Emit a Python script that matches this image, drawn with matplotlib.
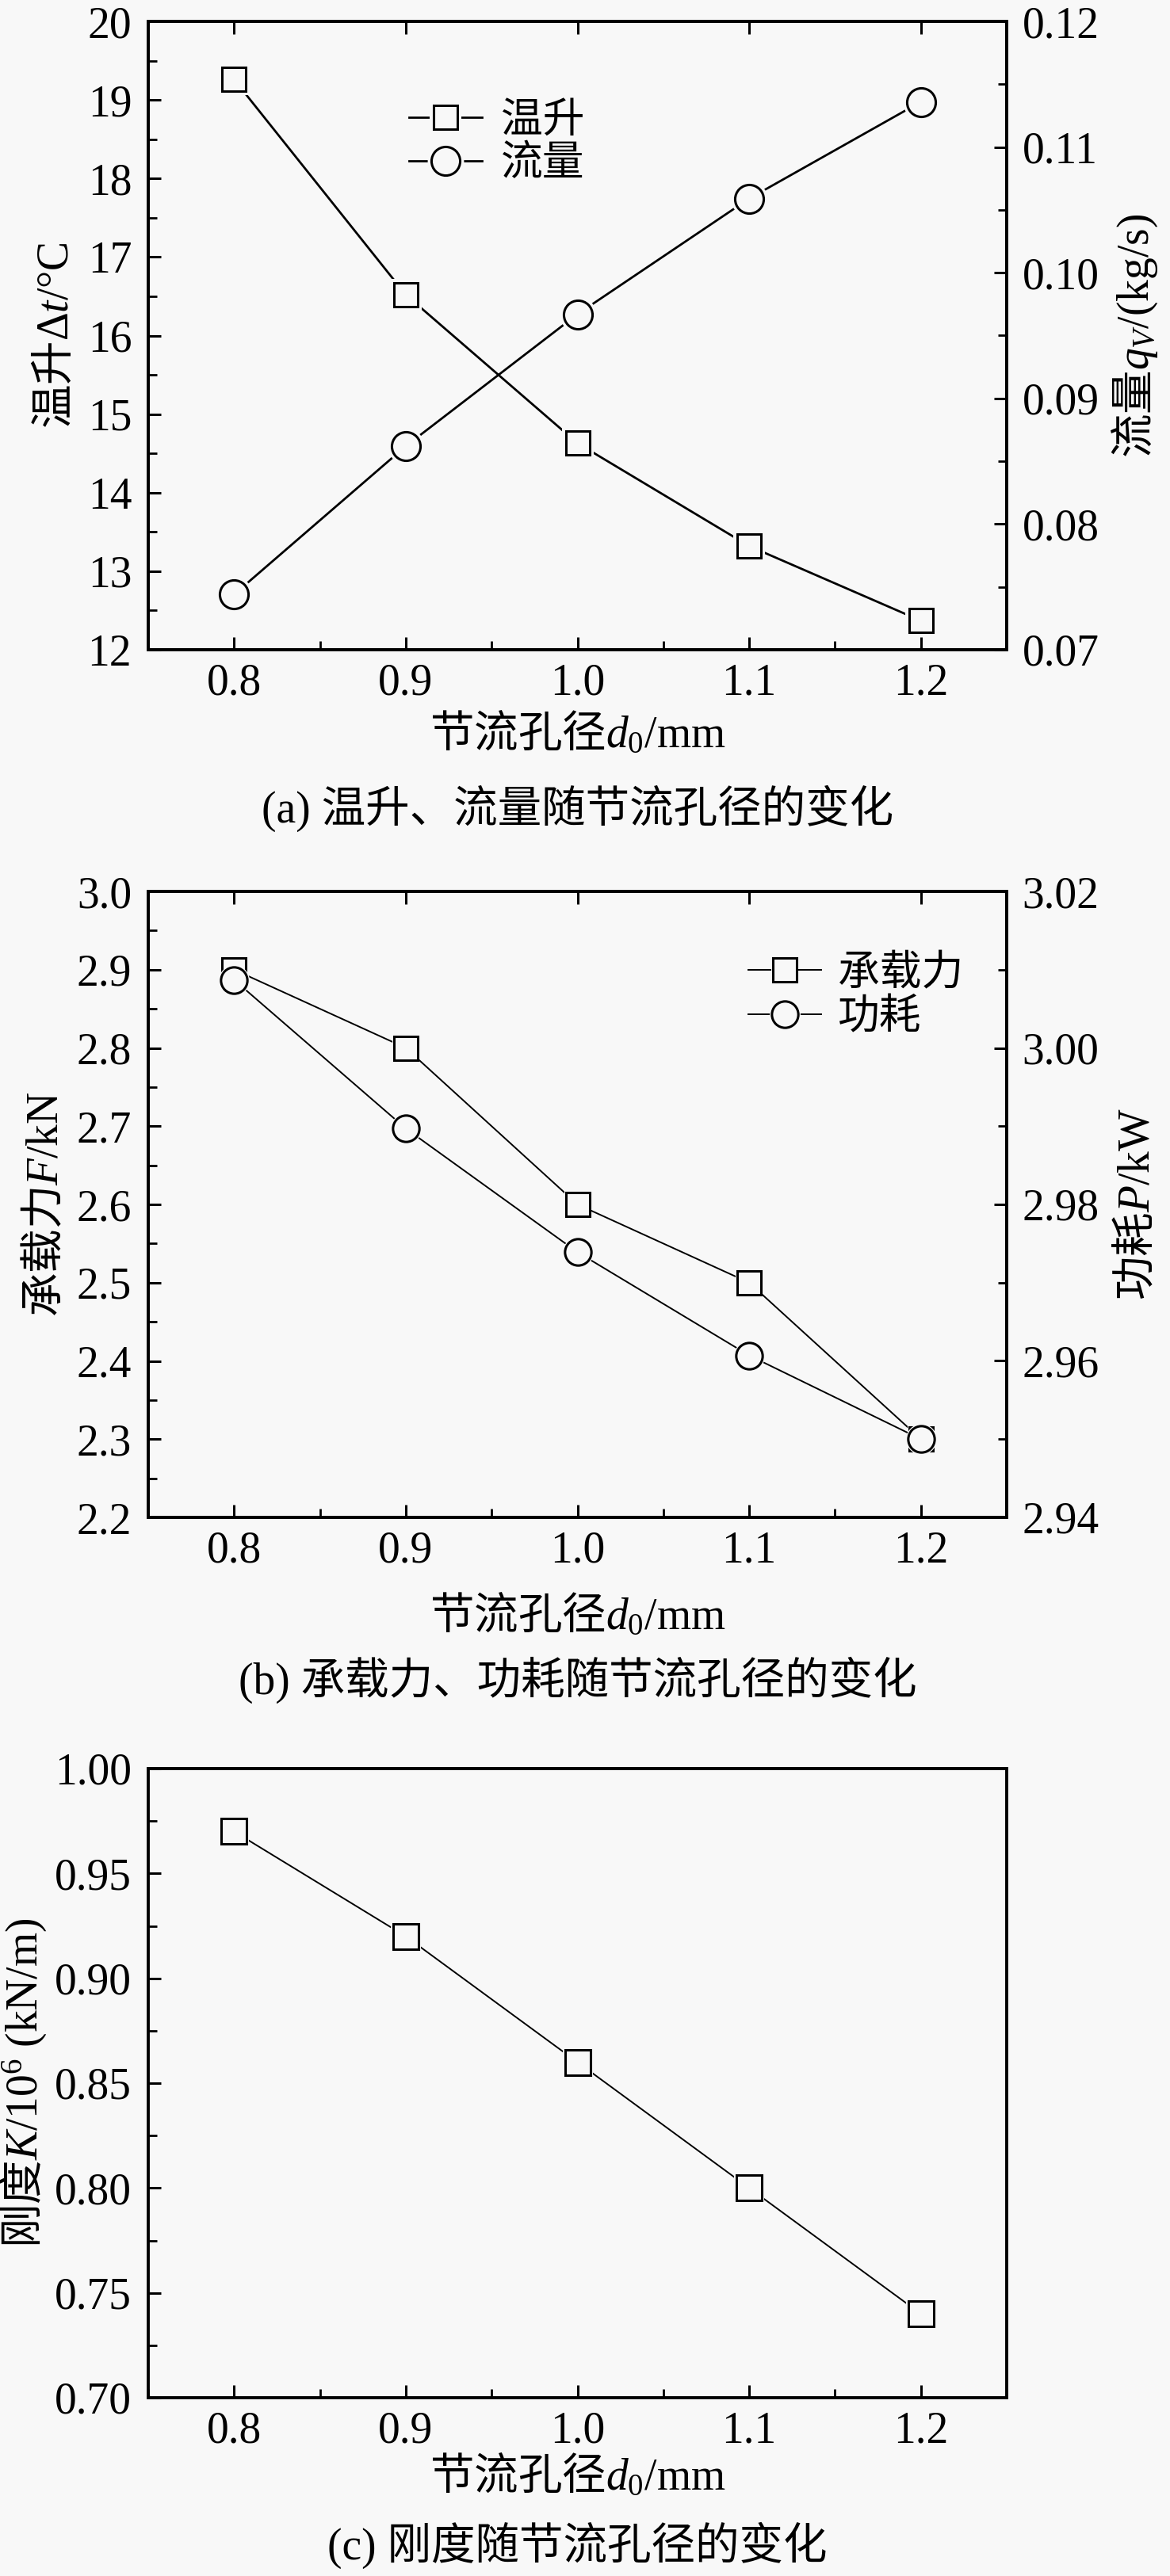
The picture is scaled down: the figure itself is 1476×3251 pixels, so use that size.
import numpy as np
import matplotlib
matplotlib.use('Agg')
import matplotlib.pyplot as plt
from matplotlib.ticker import MultipleLocator
from matplotlib.legend_handler import HandlerTuple

plt.rcParams['font.family'] = ['Liberation Serif', 'Noto Sans CJK SC', 'DejaVu Sans']
plt.rcParams['mathtext.fontset'] = 'custom'
plt.rcParams['mathtext.rm'] = 'Liberation Serif'
plt.rcParams['mathtext.it'] = 'Liberation Serif:italic'
plt.rcParams['axes.unicode_minus'] = False

# data
d0 = [0.8, 0.9, 1.0, 1.1, 1.2]
temp_rise = [19.26, 16.52, 14.63, 13.32, 12.37]
flow = [0.0744, 0.0862, 0.0967, 0.1059, 0.1136]
load = [2.9, 2.8, 2.6, 2.5, 2.3]
power = [3.0087, 2.9897, 2.9739, 2.9607, 2.950]
stiffness = [0.97, 0.92, 0.86, 0.80, 0.74]

# labels mixing Chinese and math: the Chinese part is drawn in the text's own
# font (CJK), the latin part goes through mathtext \mathrm (serif)
xlabel = r'节流孔径$d_\mathrm{0}\mathrm{/mm}$'
ylab_temp = r'温升$\mathrm{\Delta}t\mathrm{/°C}$'
ylab_flow = r'流量$q_V\mathrm{/(kg/s)}$'
ylab_load = r'承载力$F\mathrm{/kN}$'
ylab_power = r'功耗$P\mathrm{/kW}$'
ylab_stiff = r'刚度$K\mathrm{/10}^\mathrm{6}\ \mathrm{(kN/m)}$'
captions = ['(a) 温升、流量随节流孔径的变化',
            '(b) 承载力、功耗随节流孔径的变化',
            '(c) 刚度随节流孔径的变化']

W, H = 1476, 3251
bg = '#f8f8f8'
fs = 40
cjk = ['Noto Sans CJK SC', 'Liberation Serif']

fig = plt.figure(figsize=(W / 100, H / 100), dpi=100, facecolor=bg)


def px_axes(left, right, top, bottom):
    return fig.add_axes([left / W, (H - bottom) / H, (right - left) / W, (bottom - top) / H])


def style_axis(ax, which_y, top=True):
    for s in ax.spines.values():
        s.set_linewidth(2.8)
    ax.tick_params(axis='both', which='major', direction='in', length=11.5, width=2.2,
                   labelsize=fs)
    ax.tick_params(axis='both', which='minor', direction='in', length=8, width=2.0)
    ax.tick_params(axis='x', pad=12, top=top)
    ax.tick_params(axis='y', pad=15)
    if which_y == 'left':
        ax.tick_params(axis='y', which='both', right=False)


def plot_series(ax, x, y, marker, ms, lw, halo):
    ln, = ax.plot(x, y, '-', color='black', lw=lw, zorder=2)
    hl, = ax.plot(x, y, ls='none', marker=marker, ms=ms + halo, mfc=bg, mec=bg, mew=0, zorder=3)
    mk, = ax.plot(x, y, ls='none', marker=marker, ms=ms, mfc=bg, mec='black', mew=2.2, zorder=4)
    return (ln, hl, mk)


def set_x(ax, lab_y):
    ax.set_xlim(0.75, 1.25)
    ax.xaxis.set_major_locator(MultipleLocator(0.1))
    ax.xaxis.set_minor_locator(MultipleLocator(0.05))
    ax.xaxis.set_major_formatter(plt.FormatStrFormatter('%.1f'))
    ax.set_xlabel(xlabel, fontsize=fs, va='center', family=cjk)
    ax.xaxis.set_label_coords(0.5, lab_y)


# ---------- (a) ----------
ax1 = px_axes(187, 1270, 27, 820)
ax1.set_facecolor(bg)
ax1.set_ylim(12, 20)
ax1.yaxis.set_major_locator(MultipleLocator(1))
ax1.yaxis.set_minor_locator(MultipleLocator(0.5))
set_x(ax1, -0.135)
ax1.set_ylabel(ylab_temp, fontsize=fs, va='center', ha='center', family=cjk)
ax1.yaxis.set_label_coords(-0.108, 0.5)
style_axis(ax1, 'left')
h1 = plot_series(ax1, d0, temp_rise, 's', 22, 2.0, 7)

ax2 = ax1.twinx()
ax2.set_ylim(0.07, 0.12)
ax2.yaxis.set_major_locator(MultipleLocator(0.01))
ax2.yaxis.set_minor_locator(MultipleLocator(0.005))
ax2.yaxis.set_major_formatter(plt.FormatStrFormatter('%.2f'))
ax2.set_ylabel(ylab_flow, fontsize=fs, va='center', ha='center', family=cjk)
ax2.yaxis.set_label_coords(1.149, 0.5)
style_axis(ax2, 'right')
ax2.tick_params(axis='y', pad=14)
h2 = plot_series(ax2, d0, flow, 'o', 26, 2.0, 7)
ax2.legend([h1, h2], ['温升', '流量'], handler_map={tuple: HandlerTuple(ndivide=1, pad=0)},
           loc='center left', bbox_to_anchor=(0.304, 0.806), frameon=False, fontsize=38,
           handlelength=1.74, handletextpad=0.45, borderpad=0, borderaxespad=0,
           labelspacing=0.12, numpoints=1)

# ---------- (b) ----------
bx1 = px_axes(187, 1270, 1125, 1915)
bx1.set_facecolor(bg)
bx1.set_ylim(2.2, 3.0)
bx1.yaxis.set_major_locator(MultipleLocator(0.1))
bx1.yaxis.set_minor_locator(MultipleLocator(0.05))
bx1.yaxis.set_major_formatter(plt.FormatStrFormatter('%.1f'))
set_x(bx1, -0.159)
bx1.set_ylabel(ylab_load, fontsize=fs, va='center', ha='center', family=cjk)
bx1.yaxis.set_label_coords(-0.119, 0.5)
style_axis(bx1, 'left')
g1 = plot_series(bx1, d0, load, 's', 21, 1.4, 4)

bx2 = bx1.twinx()
bx2.set_ylim(2.94, 3.02)
bx2.yaxis.set_major_locator(MultipleLocator(0.02))
bx2.yaxis.set_minor_locator(MultipleLocator(0.01))
bx2.yaxis.set_major_formatter(plt.FormatStrFormatter('%.2f'))
bx2.set_ylabel(ylab_power, fontsize=fs, va='center', ha='center', family=cjk)
bx2.yaxis.set_label_coords(1.152, 0.5)
style_axis(bx2, 'right')
bx2.tick_params(axis='y', pad=14)
g2 = plot_series(bx2, d0, power, 'o', 24, 1.4, 4)
bx2.legend([g1, g2], ['承载力', '功耗'], handler_map={tuple: HandlerTuple(ndivide=1, pad=0)},
           loc='center left', bbox_to_anchor=(0.699, 0.833), frameon=False, fontsize=38,
           handlelength=1.74, handletextpad=0.4, borderpad=0, borderaxespad=0,
           labelspacing=0.12, numpoints=1)

# ---------- (c) ----------
cx = px_axes(187, 1270, 2232, 3026)
cx.set_facecolor(bg)
cx.set_ylim(0.70, 1.00)
cx.yaxis.set_major_locator(MultipleLocator(0.05))
cx.yaxis.set_minor_locator(MultipleLocator(0.025))
cx.yaxis.set_major_formatter(plt.FormatStrFormatter('%.2f'))
set_x(cx, -0.126)
cx.set_ylabel(ylab_stiff, fontsize=fs, va='center', ha='center', family=cjk)
cx.yaxis.set_label_coords(-0.145, 0.5)
style_axis(cx, 'left', top=False)
plot_series(cx, d0, stiffness, 's', 23, 1.4, 5)

# captions
xc = (187 + 1270) / 2 / W
for cap, yc in zip(captions, [1020, 2120, 3212]):
    fig.text(xc, (H - yc) / H, cap, fontsize=fs, ha='center', va='center')

fig.savefig('out.png', dpi=100, facecolor=bg)
